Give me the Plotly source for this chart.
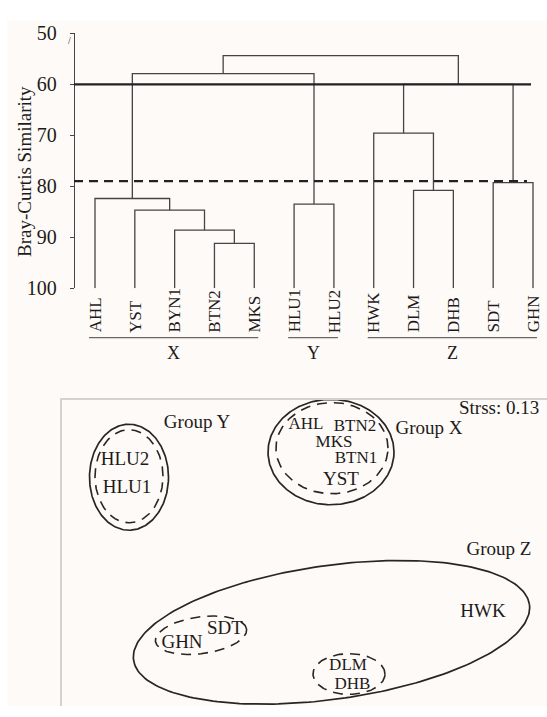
import numpy as np
import plotly.graph_objects as go

W, H = 547, 717

# ---------------- data: dendrogram ----------------
leaves = ["AHL", "YST", "BYN1", "BTN2", "MKS", "HLU1", "HLU2",
          "HWK", "DLM", "DHB", "SDT", "GHN"]
merge_name = ["n1", "n2", "n3", "X", "Y", "n6", "n7", "n8", "XY", "Z", "all"]
merge_a = ["BTN2", "BYN1", "YST", "AHL", "HLU1", "DLM", "SDT", "HWK", "X", "n8", "XY"]
merge_b = ["MKS", "n1", "n2", "n3", "HLU2", "DHB", "GHN", "n6", "Y", "n7", "Z"]
merge_sim = [91.2, 88.6, 84.7, 82.4, 83.5, 80.8, 79.3, 69.6, 57.9, 60.0, 54.4]
cut_levels = [60, 79]
y_ticks = [50, 60, 70, 80, 90, 100]

group_names = ["X", "Y", "Z"]
group_first = ["AHL", "HLU1", "HWK"]
group_last = ["MKS", "HLU2", "GHN"]

# ---------------- data: NMDS ----------------
sites = ["HLU2", "HLU1", "AHL", "BTN2", "MKS", "BTN1", "YST",
         "HWK", "SDT", "GHN", "DLM", "DHB"]
nmds1 = [-0.875, -0.865, 0.03, 0.275, 0.17, 0.28, 0.205, 0.915, -0.375, -0.59, 0.24, 0.262]
nmds2 = [0.485, 0.34, 0.665, 0.655, 0.575, 0.49, 0.38, -0.30, -0.39, -0.46, -0.578, -0.675]

# envelopes at 60 % similarity (solid) and 79 % (dashed)
env60_cx = [-0.855, 0.155, 0.1575]
env60_cy = [0.395, 0.525, -0.405]
env60_a = [0.1975, 0.315, 1.0]
env60_b = [0.2735, 0.272, 0.345]
env60_ang = [0, 0, 8.3]
env79_cx = [-0.855, 0.16, -0.495, 0.245]
env79_cy = [0.40, 0.545, -0.42, -0.62]
env79_a = [0.17, 0.28, 0.23, 0.18]
env79_b = [0.24, 0.235, 0.095, 0.105]
env79_ang = [0, 0, 8, 0]

group_lab = ["Group Y", "Group X", "Group Z"]
group_lab_x = [-0.515, 0.645, 0.995]
group_lab_y = [0.675, 0.64, 0.02]
stress_text = "Strss: 0.13"

# ---------------- helpers ----------------
FONT = "Liberation Serif, Times New Roman, serif"
TXT = "#1e1a1a"
LINE = "#4a4343"


def pxx(x):
    return x / W


def pxy(y):
    return 1 - y / H


fig = go.Figure()

# dendrogram geometry from linkage
pos = {name: (i, 100.0) for i, name in enumerate(leaves)}
xs, ys = [], []
for nm, a, b, h in zip(merge_name, merge_a, merge_b, merge_sim):
    xa, ya = pos[a]
    xb, yb = pos[b]
    xs += [xa, xa, xb, xb, None]
    ys += [ya, h, h, yb, None]
    pos[nm] = ((xa + xb) / 2, h)

fig.add_trace(go.Scatter(x=xs, y=ys, mode="lines", xaxis="x", yaxis="y",
                         line=dict(color=LINE, width=1.3), hoverinfo="skip",
                         showlegend=False))

# axis scales of top panel
leaf0_px, leafN_px = 95, 533
unit = (leafN_px - leaf0_px) / (len(leaves) - 1)
r0 = -leaf0_px / unit
r1 = (W - leaf0_px) / unit
axis_px = 74
axis_val = (axis_px - leaf0_px) / unit

shapes = []
for lev, dash in zip(cut_levels, ["solid", "9px,6px"]):
    shapes.append(dict(type="line", xref="x", yref="y", x0=axis_val,
                       x1=len(leaves) - 1 - (0.05 if dash == "solid" else 0.15),
                       y0=lev, y1=lev,
                       line=dict(color="#262121", width=2.3, dash=dash)))

annotations = []
# leaf labels
for i, lf in enumerate(leaves):
    annotations.append(dict(text=lf, x=i, xref="x", y=pxy(334), yref="paper",
                            textangle=-90, xanchor="center", yanchor="bottom",
                            showarrow=False, font=dict(family=FONT, size=17, color=TXT)))
# group brackets
for g, f, l in zip(group_names, group_first, group_last):
    x0 = leaves.index(f) - 0.15
    x1 = leaves.index(l) + 0.1
    shapes.append(dict(type="line", xref="x", yref="paper", x0=x0, x1=x1,
                       y0=pxy(337), y1=pxy(337),
                       line=dict(color="#6e6664", width=1.2)))
    annotations.append(dict(text=g, x=(x0 + x1) / 2, xref="x", y=pxy(353), yref="paper",
                            showarrow=False, xanchor="center", yanchor="middle",
                            font=dict(family=FONT, size=18, color=TXT)))
# y title
annotations.append(dict(text="Bray-Curtis Similarity", x=pxx(25), y=pxy(166),
                        xref="paper", yref="paper", textangle=-90, showarrow=False,
                        xanchor="center", yanchor="middle",
                        font=dict(family=FONT, size=19, color=TXT)))
annotations.append(dict(text="/", x=pxx(66), y=pxy(23), xref="paper", yref="paper",
                        showarrow=False, font=dict(family=FONT, size=10, color=TXT)))

# ---------------- NMDS panel ----------------
t = np.linspace(0, 2 * np.pi, 240)


def ellipse(cx, cy, a, b, ang):
    th = np.deg2rad(ang)
    x = cx + a * np.cos(t) * np.cos(th) - b * np.sin(t) * np.sin(th)
    y = cy + a * np.cos(t) * np.sin(th) + b * np.sin(t) * np.cos(th)
    return x, y


for cx, cy, a, b, ang in zip(env60_cx, env60_cy, env60_a, env60_b, env60_ang):
    ex, ey = ellipse(cx, cy, a, b, ang)
    fig.add_trace(go.Scatter(x=ex, y=ey, mode="lines", xaxis="x2", yaxis="y2",
                             line=dict(color="#2a2523", width=1.7), hoverinfo="skip",
                             showlegend=False))
for cx, cy, a, b, ang in zip(env79_cx, env79_cy, env79_a, env79_b, env79_ang):
    ex, ey = ellipse(cx, cy, a, b, ang)
    fig.add_trace(go.Scatter(x=ex, y=ey, mode="lines", xaxis="x2", yaxis="y2",
                             line=dict(color="#2a2523", width=1.6, dash="10px,7px"),
                             hoverinfo="skip", showlegend=False))

site_size = [19, 19, 17, 17, 17, 17, 19, 19, 19, 19, 17, 17]
fig.add_trace(go.Scatter(x=nmds1, y=nmds2, text=sites, mode="text", xaxis="x2", yaxis="y2",
                         textposition="middle center",
                         textfont=dict(family=FONT, size=site_size, color=TXT),
                         hoverinfo="skip", showlegend=False))
fig.add_trace(go.Scatter(x=group_lab_x, y=group_lab_y, text=group_lab, mode="text",
                         xaxis="x2", yaxis="y2", textposition="middle center",
                         textfont=dict(family=FONT, size=19, color=TXT),
                         hoverinfo="skip", showlegend=False))
annotations.append(dict(text=stress_text, x=pxx(541), y=pxy(409), xref="paper", yref="paper",
                        xanchor="right", yanchor="middle", showarrow=False,
                        font=dict(family=FONT, size=19, color=TXT)))

# background panel (scan tone)
shapes.insert(0, dict(type="rect", xref="paper", yref="paper", x0=pxx(7), x1=1,
                      y0=0, y1=pxy(10), fillcolor="#fdfaf7", line=dict(width=0),
                      layer="below"))

s2 = 200.0  # px per NMDS unit
fig.update_layout(
    width=W, height=H, margin=dict(l=0, r=0, t=0, b=0),
    paper_bgcolor="#ffffff", plot_bgcolor="rgba(0,0,0,0)",
    xaxis=dict(domain=[0, 1], range=[r0, r1], visible=False, fixedrange=True),
    yaxis=dict(domain=[pxy(286), pxy(23)], range=[100, 50], anchor="free",
               position=pxx(axis_px), tickvals=y_ticks, ticks="outside", ticklen=4,
               tickcolor="#4a4343", tickwidth=1.3,
               showline=True, linecolor="#4a4343", linewidth=1.4,
               showgrid=False, zeroline=False, ticklabelstandoff=9,
               tickfont=dict(family=FONT, size=20, color=TXT)),
    xaxis2=dict(domain=[pxx(62), 1], range=[(62 - 300) / s2, (W - 300) / s2],
                anchor="y2", side="top", showline=True, linecolor="#d6d2d0", linewidth=1.5,
                showticklabels=False, ticks="", showgrid=False, zeroline=False),
    yaxis2=dict(domain=[0, pxy(401)], range=[(560 - H) / s2, (560 - 401) / s2],
                anchor="x2", showline=True, linecolor="#d6d2d0", linewidth=1.5,
                showticklabels=False, ticks="", showgrid=False, zeroline=False),
    shapes=shapes, annotations=annotations, showlegend=False,
)

fig.write_html("out.html")
